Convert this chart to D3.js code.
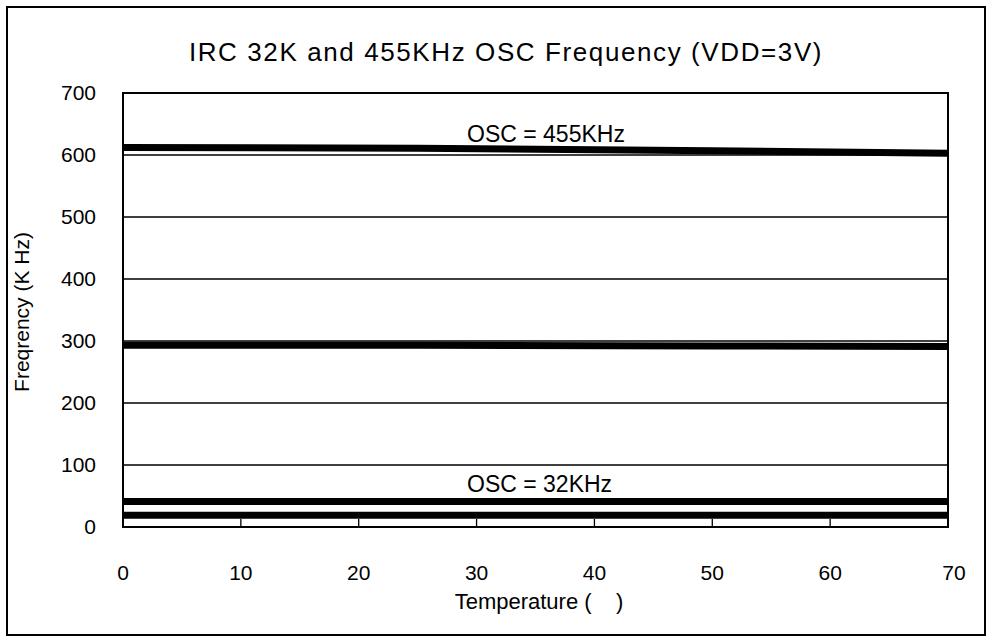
<!DOCTYPE html>
<html><head><meta charset="utf-8">
<script src="https://cdn.jsdelivr.net/npm/d3@7"></script>
<style>body{margin:0;background:#fff}svg{display:block}text{font-family:"Liberation Sans",Arial,sans-serif;fill:#000}</style>
</head><body><svg id="c" width="992" height="643"></svg>
<script>
const temps = [0, 25, 50, 70];
const osc455a = [612, 611, 607, 603];
const osc455b = [293, 293, 292, 291];
const osc32a = [41, 41, 41, 41];
const osc32b = [19, 19, 19, 19];
const xTicks = [0, 10, 20, 30, 40, 50, 60, 70];
const yTicks = [0, 100, 200, 300, 400, 500, 600, 700];
const seriesList = [osc455a, osc455b, osc32a, osc32b];

const svg = d3.select("#c");
svg.append("rect").attr("x", 7).attr("y", 7).attr("width", 978).attr("height", 628)
  .attr("fill", "#fff").attr("stroke", "#000").attr("stroke-width", 2);

const L = 123, R = 948, T = 93, B = 527;
const x = d3.scaleLinear().domain([0, 70]).range([L, R]);
const y = d3.scaleLinear().domain([0, 700]).range([B, T]);

svg.append("g").selectAll("line").data(yTicks.filter(v => v > 0 && v < 700)).join("line")
  .attr("x1", L).attr("x2", R).attr("y1", d => y(d)).attr("y2", d => y(d))
  .attr("stroke", "#000").attr("stroke-width", 1.3);

svg.append("g").selectAll("line").data(xTicks.filter(v => v > 0 && v < 70)).join("line")
  .attr("x1", d => x(d)).attr("x2", d => x(d)).attr("y1", B).attr("y2", B - 8)
  .attr("stroke", "#000").attr("stroke-width", 1.3);

const line = d3.line().x((d, i) => x(temps[i])).y(d => y(d));
svg.append("g").selectAll("path").data(seriesList).join("path")
  .attr("d", d => line(d)).attr("fill", "none").attr("stroke", "#000").attr("stroke-width", 7);

svg.append("rect").attr("x", L).attr("y", T).attr("width", R - L).attr("height", B - T)
  .attr("fill", "none").attr("stroke", "#000").attr("stroke-width", 2);

svg.append("g").selectAll("text").data(yTicks).join("text")
  .attr("x", 96).attr("y", d => y(d)).attr("dy", "0.35em").attr("text-anchor", "end")
  .attr("font-size", 21).text(d => d);

svg.append("g").selectAll("text").data(xTicks).join("text")
  .attr("x", d => x(d) + (d === 70 ? 6 : 0)).attr("y", 573).attr("dy", "0.35em").attr("text-anchor", "middle")
  .attr("font-size", 21).text(d => d);

svg.append("text").attr("x", 506).attr("y", 52).attr("dy", "0.35em").attr("text-anchor", "middle")
  .attr("font-size", 26).attr("letter-spacing", 1.6).text("IRC 32K and 455KHz OSC Frequency (VDD=3V)");
svg.append("text").attr("x", 539).attr("y", 601).attr("dy", "0.35em").attr("text-anchor", "middle")
  .attr("font-size", 22).style("white-space", "pre").text("Temperature (    )");
svg.append("text").attr("transform", "translate(22,312) rotate(-90)").attr("dy", "0.35em")
  .attr("text-anchor", "middle").attr("font-size", 21).text("Freqrency (K Hz)");

svg.append("text").attr("x", 467).attr("y", 134).attr("dy", "0.35em").attr("font-size", 23).text("OSC = 455KHz");
svg.append("text").attr("x", 467).attr("y", 484).attr("dy", "0.35em").attr("font-size", 23).text("OSC = 32KHz");
</script></body></html>
